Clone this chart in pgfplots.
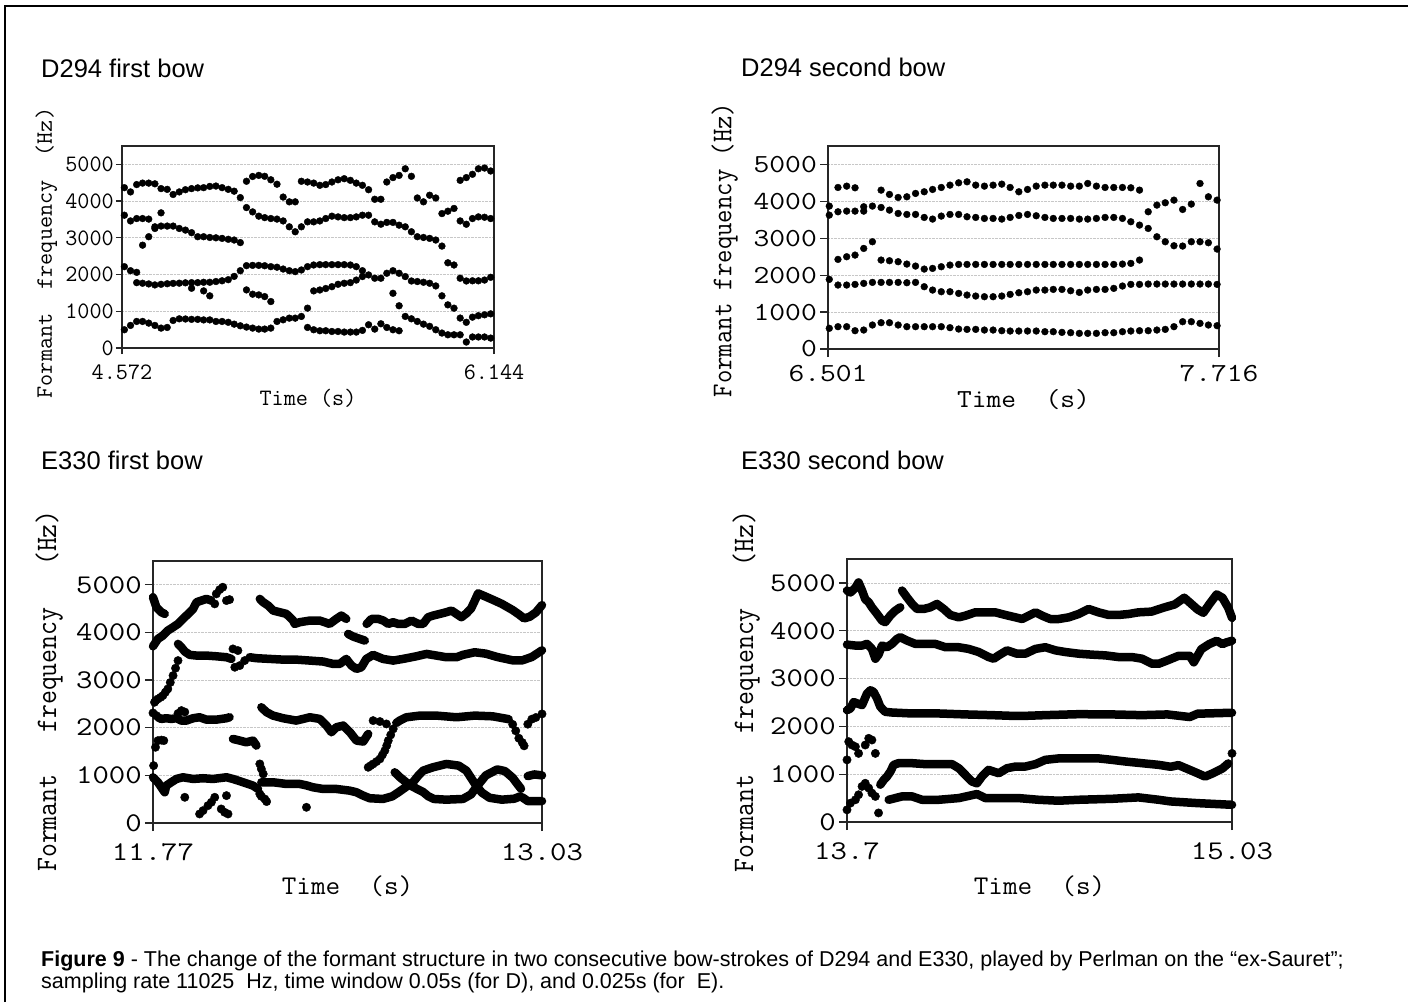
\documentclass[border=0pt]{standalone}
\usepackage{fontspec}
\setmainfont{Liberation Sans}
\usepackage{graphicx}
\usepackage{pgfplots}
\usepackage{pgfplotstable}
\pgfplotsset{compat=1.18}

\newcommand\tickA{\fontsize{23.5}{24}\selectfont\ttfamily}
\newcommand\tickB{\fontsize{26}{27}\selectfont\ttfamily}
\newcommand\tickC{\fontsize{27}{28}\selectfont\ttfamily}
\newcommand\sx[1]{\scalebox{1.18}[1]{#1}}

\pgfplotstableread{
t a b c d e
4.582 4366 3616 2215 497 nan
4.608 4250 3460 2105 615 nan
4.634 4450 3525 2060 1780 723
4.659 4490 3525 2800 1763 723
4.685 4490 3510 3030 1745 678
4.711 4470 3300 3255 1718 615
4.737 4340 3680 3320 1735 542
4.763 4320 3320 1750 560 nan
4.788 4180 3320 1760 750 nan
4.814 4250 3255 1765 795 nan
4.840 4310 3210 1775 790 nan
4.866 4340 3140 1780 1627 780
4.892 4360 3030 1780 780 nan
4.917 4366 3030 1790 1555 765
4.943 4400 3010 1790 1420 765
4.969 4410 3000 1810 723 nan
4.995 4366 2985 1830 723 nan
5.021 4320 2960 1860 700 nan
5.046 4270 2940 1950 650 nan
5.072 4095 2870 2105 605 nan
5.098 4540 3824 2242 1582 570
5.124 4670 3706 2250 1465 542
5.150 4700 3590 2250 1446 515
5.175 4675 3550 2240 1400 515
5.201 4580 3525 2215 1265 542
5.227 4460 3510 2200 723 nan
5.253 4110 3460 2150 768 nan
5.279 3980 3300 2105 813 nan
5.304 3980 3165 2080 813 nan
5.330 4540 3300 2125 860 nan
5.356 4520 3435 2215 1085 560
5.382 4490 3435 2260 1555 497
5.408 4430 3460 2270 1580 470
5.433 4450 3525 2270 1620 470
5.459 4520 3590 2270 1670 450
5.485 4580 3570 2270 1735 450
5.511 4610 3550 2270 1763 434
5.537 4565 3550 2260 1780 434
5.562 4490 3570 2215 1850 434
5.588 4430 3616 2105 1945 480
5.614 4310 3616 1990 633 nan
5.640 4050 3435 1900 515 nan
5.666 4050 3370 1900 660 nan
5.691 4520 3420 2035 560 nan
5.717 4640 3420 2105 1490 497
5.743 4700 3345 2035 1150 470
5.769 4880 3300 1945 860 nan
5.795 4675 3165 1825 795 nan
5.820 4085 3030 1810 723 nan
5.846 3980 3010 1790 650 nan
5.872 4160 2985 1763 590 nan
5.898 4085 2940 1690 497 nan
5.924 3660 2775 1420 407 nan
5.949 3725 2320 1175 360 nan
5.975 3800 2260 1085 360 nan
6.001 4565 3460 1900 815 360
6.027 4640 3370 1825 700 163
6.053 4730 3525 1830 840 300
6.078 4880 3570 1830 880 300
6.104 4900 3560 1850 904 300
6.130 4820 3525 1925 930 270
}\tabA

\pgfplotstableread{
t a b c d e
6.505 3872 3628 1886 560 nan
6.532 4377 3718 2428 1733 605
6.559 4413 3736 2500 1733 605
6.585 4368 3736 2545 1750 496
6.612 3854 3736 2725 1778 514
6.639 3872 2906 1805 650 nan
6.666 4305 3835 2410 1805 713
6.692 4188 3763 2392 1805 713
6.719 4106 3673 2365 1805 650
6.746 4124 3646 2301 1796 605
6.773 4215 3646 2247 1805 605
6.800 4260 3565 2166 1688 605
6.826 4323 3520 2184 1597 605
6.853 4377 3601 2229 1552 605
6.880 4440 3646 2274 1552 578
6.907 4503 3646 2292 1507 541
6.933 4530 3583 2292 1462 532
6.960 4440 3565 2292 1435 532
6.987 4413 3538 2292 1417 514
7.014 4440 3538 2292 1417 514
7.041 4467 3520 2292 1435 496
7.067 4377 3565 2292 1480 487
7.094 4260 3619 2292 1525 487
7.121 4323 3646 2292 1552 487
7.148 4413 3610 2292 1597 487
7.175 4440 3565 2292 1597 469
7.201 4440 3538 2292 1615 469
7.228 4440 3538 2292 1615 451
7.255 4413 3538 2292 1579 442
7.282 4413 3520 2292 1534 424
7.308 4485 3520 2292 1597 424
7.335 4413 3538 2292 1615 424
7.362 4377 3565 2292 1615 442
7.389 4377 3565 2292 1643 442
7.416 4377 3538 2301 1706 469
7.442 4368 3448 2320 1751 487
7.469 4305 3357 2410 1751 496
7.496 3718 3267 1760 496 nan
7.523 3899 3041 1760 514 nan
7.549 3962 2906 1760 532 nan
7.576 4034 2798 1760 605 nan
7.603 3781 2789 1760 740 nan
7.630 3926 2906 1760 740 nan
7.657 4485 2906 1760 695 nan
7.683 4124 2879 1760 650 nan
7.710 4034 2708 1751 632 nan
}\tabB

\pgfplotsset{
  fp/.style={
    scale only axis, clip=false, anchor=south west,
    ymin=0, ymax=5500,
    ytick={0,1000,2000,3000,4000,5000},
    ymajorgrids,
    major grid style={densely dotted, black!22, line width=0.8pt},
    tick align=outside,
    xtick pos=left, ytick pos=left,
    tick style={black!85, line width=1.3pt},
    axis line style={black!85, line width=1.6pt},
    yticklabel style={anchor=east, inner sep=0pt},
    xticklabel style={anchor=north, inner sep=0pt},
  },
  fpA/.style={fp, major tick length=6pt,
    yticklabels={0,1000,2000,3000,4000,5000},
    yticklabel style={xshift=-2pt}},
  fpB/.style={fp, major tick length=8pt,
    yticklabels={\sx{0},\sx{1000},\sx{2000},\sx{3000},\sx{4000},\sx{5000}},
    yticklabel style={xshift=-3pt}},
  dotA/.style={only marks, mark=*, mark size=3.4pt, black},
  dotB/.style={only marks, mark=*, mark size=4.2pt, black},
  seg/.style={black, line width=8.5pt, line cap=round, line join=round, no marks},
}

\begin{document}
\begin{tikzpicture}
\useasboundingbox (0pt,0pt) rectangle (1408pt,-1002pt);
\fill[white] (0pt,0pt) rectangle (1408pt,-1002pt);
\draw[line width=2pt] (5pt,-1002pt) -- (5pt,-6pt) -- (1408pt,-6pt);

\node[anchor=base west, inner sep=0pt, font=\fontsize{25.5}{30}\selectfont] at (41pt,-77pt) {D294 first bow};
\node[anchor=base west, inner sep=0pt, font=\fontsize{25.5}{30}\selectfont] at (741pt,-76pt) {D294 second bow};
\node[anchor=base west, inner sep=0pt, font=\fontsize{25.5}{30}\selectfont] at (41pt,-469pt) {E330 first bow};
\node[anchor=base west, inner sep=0pt, font=\fontsize{25.5}{30}\selectfont] at (741pt,-469pt) {E330 second bow};

% ---------- D294 first bow
\begin{axis}[fpA, at={(122pt,-348pt)}, width=372pt, height=202pt,
  xmin=4.572, xmax=6.144, xtick={4.572,6.144}, xticklabels={4.572,6.144},
  ticklabel style={font=\tickA}, label style={font=\tickA},
  xticklabel style={yshift=-11pt},
  xlabel={Time (s)}, ylabel={Formant~~frequency~~(Hz)},
  xlabel style={at={(axis description cs:0.5,-0.287)}, anchor=base},
  ylabel style={at={(axis description cs:-0.203,0.47)}, anchor=center}]
\addplot[dotA] table[x=t,y=a]{\tabA};
\addplot[dotA] table[x=t,y=b]{\tabA};
\addplot[dotA] table[x=t,y=c]{\tabA};
\addplot[dotA] table[x=t,y=d]{\tabA};
\addplot[dotA] table[x=t,y=e]{\tabA};
\end{axis}

% ---------- D294 second bow
\begin{axis}[fpB, at={(828pt,-349pt)}, width=391pt, height=203pt,
  xmin=6.501, xmax=7.716, xtick={6.501,7.716}, xticklabels={\sx{6.501},\sx{7.716}},
  ticklabel style={font=\tickB}, label style={font=\tickB},
  xticklabel style={yshift=-8pt},
  xlabel={\scalebox{1.1}[1]{Time~~(s)}}, ylabel={\scalebox{1}[1.1]{Formant frequency (Hz)}},
  xlabel style={at={(axis description cs:0.5,-0.286)}, anchor=base},
  ylabel style={at={(axis description cs:-0.264,0.488)}, anchor=center}]
\addplot[dotA] table[x=t,y=a]{\tabB};
\addplot[dotA] table[x=t,y=b]{\tabB};
\addplot[dotA] table[x=t,y=c]{\tabB};
\addplot[dotA] table[x=t,y=d]{\tabB};
\addplot[dotA] table[x=t,y=e]{\tabB};
\end{axis}

% ---------- E330 first bow
\begin{axis}[fpB, at={(153pt,-823pt)}, width=389pt, height=262pt,
  xmin=11.77, xmax=13.03, xtick={11.77,13.03}, xticklabels={\sx{11.77},\sx{13.03}},
  ticklabel style={font=\tickC}, label style={font=\tickC},
  xticklabel style={yshift=-12pt},
  xlabel={\scalebox{1.05}[1]{Time~~(s)}}, ylabel={\scalebox{1}[1.1]{Formant~~~frequency~~~(Hz)}},
  xlabel style={at={(axis description cs:0.5,-0.273)}, anchor=base},
  ylabel style={at={(axis description cs:-0.267,0.504)}, anchor=center}]
\addplot[seg] coordinates {(11.770,4740) (11.781,4530) (11.797,4425) (11.808,4390)};
\addplot[seg] coordinates {(11.770,3710) (11.786,3865) (11.802,3935) (11.818,4040) (11.835,4110) (11.851,4180) (11.867,4285) (11.884,4390) (11.900,4495) (11.911,4635) (11.927,4670) (11.943,4705) (11.959,4670)};
\addplot[dotB] coordinates {(11.970,4600) (11.975,4810) (11.986,4900) (11.996,4950) (12.008,4670) (12.018,4690)};
\addplot[seg] coordinates {(12.116,4705) (12.127,4635) (12.143,4565) (12.159,4460) (12.181,4425) (12.202,4390) (12.224,4250) (12.229,4180) (12.245,4215) (12.278,4250) (12.310,4250) (12.342,4180) (12.364,4285) (12.380,4355) (12.396,4285)};
\addplot[seg] coordinates {(12.402,3970) (12.418,3915) (12.440,3865) (12.456,3830)};
\addplot[seg] coordinates {(12.462,4180) (12.478,4285) (12.500,4285) (12.516,4250) (12.532,4180) (12.548,4215) (12.564,4180) (12.586,4180) (12.607,4250) (12.629,4180) (12.645,4180) (12.661,4320) (12.677,4355) (12.699,4390) (12.720,4425) (12.737,4460) (12.753,4390) (12.769,4320) (12.785,4400) (12.800,4500) (12.811,4650) (12.823,4820) (12.845,4760) (12.873,4680) (12.900,4600) (12.935,4470) (12.955,4380) (12.972,4295) (12.990,4330) (13.010,4420) (13.030,4575)};
\addplot[dotB] coordinates {(11.775,2535) (11.779,2570) (11.786,2605) (11.795,2640) (11.802,2675) (11.810,2745) (11.818,2815) (11.826,2950) (11.835,3095) (11.843,3250) (11.851,3410)};
\addplot[seg] coordinates {(11.851,3760) (11.862,3690) (11.873,3600) (11.889,3530) (11.911,3515) (11.943,3515) (11.975,3500) (12.008,3480) (12.024,3445)};
\addplot[dotB] coordinates {(12.029,3655) (12.045,3620) (12.035,3270) (12.051,3305) (12.067,3410)};
\addplot[seg] coordinates {(12.083,3480) (12.105,3460) (12.148,3445) (12.191,3430) (12.234,3430) (12.278,3410) (12.321,3390) (12.353,3340) (12.375,3340) (12.396,3445) (12.413,3305) (12.429,3235) (12.445,3270) (12.461,3445) (12.483,3530) (12.515,3445) (12.548,3410) (12.580,3445) (12.623,3500) (12.656,3550) (12.688,3515) (12.720,3480) (12.753,3480) (12.774,3530) (12.812,3585) (12.848,3555) (12.885,3485) (12.935,3415) (12.966,3415) (12.997,3485) (13.030,3625)};
\addplot[dotB] coordinates {(11.770,2310) (11.781,2255) (11.851,2300) (11.862,2360) (11.873,2330)};
\addplot[seg] coordinates {(11.786,2220) (11.797,2185) (11.813,2200) (11.829,2185) (11.846,2200) (11.862,2150) (11.878,2150) (11.900,2200) (11.921,2220) (11.943,2170) (11.975,2170) (12.008,2200) (12.018,2220)};
\addplot[seg] coordinates {(12.121,2430) (12.138,2325) (12.159,2255) (12.191,2200) (12.234,2150) (12.278,2220) (12.310,2185) (12.332,2045) (12.348,1905) (12.364,2010) (12.386,2045) (12.408,1905) (12.429,1730) (12.451,1710) (12.467,1870)};
\addplot[dotB] coordinates {(12.483,2150) (12.505,2130) (12.526,2080)};
\addplot[dotB] coordinates {(12.467,1170) (12.475,1205) (12.483,1240) (12.494,1290) (12.505,1345) (12.513,1430) (12.521,1520) (12.527,1625) (12.532,1730) (12.540,1850) (12.548,1975)};
\addplot[seg] coordinates {(12.558,2100) (12.569,2150) (12.591,2220) (12.634,2255) (12.688,2255) (12.753,2220) (12.812,2255) (12.870,2240) (12.922,2180)};
\addplot[dotB] coordinates {(12.935,2070) (12.945,1935) (12.955,1780) (12.966,1690) (12.972,1620) (12.984,2075) (12.997,2180) (13.010,2215) (13.030,2290)};
\addplot[dotB] coordinates {(11.772,1205) (11.778,1590) (11.786,1730) (11.797,1740) (11.805,1730)};
\addplot[seg] coordinates {(12.029,1765) (12.051,1730) (12.072,1695) (12.094,1730) (12.105,1625)};
\addplot[seg] coordinates {(11.770,960) (11.786,855) (11.797,750) (11.808,645) (11.813,785) (11.829,855) (11.846,925) (11.867,960) (11.900,925) (11.932,940) (11.964,925) (12.008,960) (12.029,925) (12.062,855) (12.094,785) (12.110,715)};
\addplot[dotB] coordinates {(12.116,1240) (12.121,1135) (12.127,1030) (12.116,610) (12.121,560) (12.132,505) (12.138,450)};
\addplot[seg] coordinates {(12.121,855) (12.159,855) (12.202,820) (12.245,820) (12.267,790) (12.288,750) (12.321,715) (12.364,715) (12.407,680) (12.429,645) (12.451,575) (12.472,520) (12.515,505) (12.545,560) (12.565,645) (12.590,760) (12.612,855) (12.630,1000) (12.645,1100) (12.677,1170) (12.720,1240) (12.760,1205) (12.785,1100) (12.800,950) (12.815,800) (12.835,640) (12.860,530) (12.900,490) (12.940,510) (12.960,560)};
\addplot[seg] coordinates {(12.553,1065) (12.570,960) (12.590,855) (12.612,760) (12.645,650) (12.662,560) (12.680,505) (12.720,490) (12.774,505) (12.800,600) (12.823,800) (12.848,1000) (12.885,1125) (12.910,1090) (12.935,950) (12.950,820) (12.962,720)};
\addplot[seg] coordinates {(12.984,985) (13.005,1020) (13.030,1000)};
\addplot[seg] coordinates {(12.966,540) (12.984,460) (13.030,460)};
\addplot[dotB] coordinates {(11.873,540) (11.921,190) (11.932,260) (11.948,365) (11.959,435) (11.970,540) (11.991,295) (12.002,225) (12.013,190) (12.008,575) (12.267,330)};
\end{axis}

% ---------- E330 second bow
\begin{axis}[fpB, at={(847pt,-822pt)}, width=385pt, height=263pt,
  xmin=13.7, xmax=15.03, xtick={13.7,15.03}, xticklabels={\sx{13.7},\sx{15.03}},
  ticklabel style={font=\tickC}, label style={font=\tickC},
  xticklabel style={yshift=-12pt},
  xlabel={\scalebox{1.05}[1]{Time~~(s)}}, ylabel={\scalebox{1}[1.1]{Formant~~~frequency~~~(Hz)}},
  xlabel style={at={(axis description cs:0.5,-0.276)}, anchor=base},
  ylabel style={at={(axis description cs:-0.262,0.496)}, anchor=center}]
\addplot[seg] coordinates {(13.700,4840) (13.712,4800) (13.729,4900) (13.740,5010) (13.752,4840) (13.763,4660) (13.775,4595) (13.786,4490) (13.804,4350) (13.821,4210) (13.832,4180) (13.850,4320) (13.867,4420) (13.884,4490)};
\addplot[seg] coordinates {(13.890,4840) (13.907,4700) (13.925,4560) (13.942,4455) (13.965,4455) (13.988,4490) (14.011,4560) (14.034,4455) (14.057,4330) (14.086,4280) (14.109,4315) (14.143,4385) (14.178,4385) (14.212,4385) (14.247,4330) (14.282,4280) (14.305,4245) (14.328,4315) (14.351,4385) (14.374,4315) (14.402,4245) (14.431,4245) (14.466,4280) (14.500,4350) (14.535,4455) (14.569,4385) (14.604,4330) (14.638,4330) (14.673,4350) (14.707,4385) (14.752,4400) (14.792,4480) (14.832,4550) (14.865,4690) (14.885,4585) (14.911,4445) (14.931,4375) (14.951,4550) (14.977,4760) (14.997,4690) (15.017,4480) (15.030,4270)};
\addplot[seg] coordinates {(13.700,3710) (13.729,3690) (13.752,3690) (13.769,3725) (13.786,3620) (13.798,3415) (13.809,3500) (13.821,3690) (13.838,3655) (13.855,3725) (13.873,3830) (13.884,3865) (13.907,3795) (13.936,3725) (13.970,3725) (14.005,3725) (14.040,3655) (14.086,3655) (14.120,3620) (14.155,3555) (14.189,3450) (14.207,3415) (14.224,3485) (14.253,3590) (14.287,3520) (14.316,3520) (14.351,3620) (14.385,3655) (14.420,3590) (14.454,3555) (14.500,3520) (14.546,3500) (14.592,3485) (14.638,3450) (14.684,3450) (14.719,3415) (14.754,3310) (14.777,3310) (14.807,3380) (14.845,3475) (14.884,3475) (14.898,3340) (14.924,3615) (14.951,3720) (14.977,3790) (14.997,3720) (15.010,3755) (15.030,3790)};
\addplot[seg] coordinates {(13.700,2340) (13.712,2375) (13.723,2510) (13.735,2480) (13.752,2445) (13.769,2685) (13.781,2755) (13.792,2720) (13.804,2580) (13.815,2410) (13.832,2305) (13.855,2290) (13.925,2270) (14.017,2270) (14.109,2250) (14.201,2235) (14.270,2220) (14.316,2220) (14.385,2235) (14.500,2255) (14.615,2250) (14.719,2235) (14.807,2250) (14.884,2195) (14.911,2265) (15.030,2285)};
\addplot[dotB] coordinates {(13.700,1300) (13.706,1680) (13.717,1610) (13.729,1575) (13.740,1435) (13.763,1610) (13.775,1750) (13.786,1715) (13.798,1435)};
\addplot[dotB] coordinates {(13.700,255) (13.712,395) (13.729,465) (13.740,570) (13.752,745) (13.763,810) (13.775,710) (13.786,605) (13.798,535) (13.809,190)};
\addplot[seg] coordinates {(13.815,780) (13.827,880) (13.838,950) (13.850,1055) (13.861,1195) (13.878,1230) (13.925,1230) (13.971,1210) (14.017,1210) (14.063,1210) (14.086,1125) (14.109,985) (14.132,845) (14.149,810) (14.166,950) (14.189,1090) (14.224,1020) (14.253,1125) (14.282,1160) (14.316,1160) (14.351,1210) (14.385,1300) (14.431,1330) (14.500,1330) (14.569,1330) (14.615,1300) (14.662,1265) (14.719,1230) (14.777,1195) (14.818,1155) (14.845,1190) (14.884,1090) (14.911,1020) (14.937,950) (14.964,1020) (14.997,1120) (15.017,1225)};
\addplot[dotB] coordinates {(15.030,1435)};
\addplot[seg] coordinates {(13.844,465) (13.890,535) (13.925,535) (13.959,465) (14.017,465) (14.086,500) (14.149,585) (14.178,500) (14.224,500) (14.293,500) (14.362,465) (14.431,445) (14.500,465) (14.615,485) (14.707,515) (14.777,465) (14.818,430) (14.911,395) (15.030,360)};
\end{axis}

\node[anchor=base west, inner sep=0pt, align=left, font=\fontsize{21.5}{22}\selectfont] at (41pt,-988pt)
  {\textbf{Figure 9} - The change of the formant structure in two consecutive bow-strokes of D294 and E330, played by Perlman on the “ex-Sauret”;\\
   sampling rate 11025~~Hz, time window 0.05s (for D), and 0.025s (for~~E).};
\end{tikzpicture}
\end{document}
